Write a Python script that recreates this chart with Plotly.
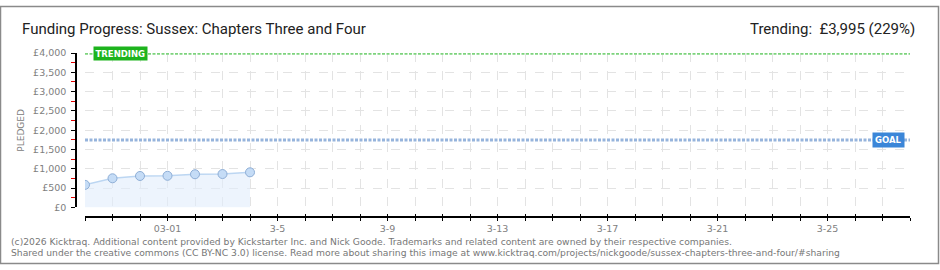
import plotly.graph_objects as go

# ---- data ----
dates = ["2026-02-26", "2026-02-27", "2026-02-28", "2026-03-01", "2026-03-02", "2026-03-03", "2026-03-04"]
pledged = [585, 755, 815, 820, 860, 865, 910]
goal = 1745
trending = 3995
x_start, x_end = "2026-02-26", "2026-03-28"

y_tick_vals = [0, 500, 1000, 1500, 2000, 2500, 3000, 3500, 4000]
y_tick_text = ["£0", "£500", "£1,000", "£1,500", "£2,000", "£2,500", "£3,000", "£3,500", "£4,000"]

all_days = ["2026-02-26", "2026-02-27", "2026-02-28"] + ["2026-03-%02d" % d for d in range(1, 29)]
label_map = {"2026-03-01": "03-01", "2026-03-05": "3-5", "2026-03-09": "3-9", "2026-03-13": "3-13",
             "2026-03-17": "3-17", "2026-03-21": "3-21", "2026-03-25": "3-25"}
x_tick_text = [label_map.get(d, "") for d in all_days]

title = "Funding Progress: Sussex: Chapters Three and Four"
trend_text = "Trending:  £3,995 (229%)"
footer1 = "(c)2026 Kicktraq. Additional content provided by Kickstarter Inc. and Nick Goode. Trademarks and related content are owned by their respective companies."
footer2 = "Shared under the creative commons (CC BY-NC 3.0) license. Read more about sharing this image at www.kicktraq.com/projects/nickgoode/sussex-chapters-three-and-four/#sharing"

W, H = 940, 270
px = lambda v: v / W
py = lambda v: (H - v) / H

fig = go.Figure()

fig.add_trace(go.Scatter(
    x=dates, y=pledged, mode="lines+markers",
    line=dict(color="#bcd6f2", width=1.5),
    fill="tozeroy", fillcolor="rgba(225,237,252,0.6)",
    marker=dict(size=9, color="#c5dcf6", line=dict(color="#8eaed6", width=1)),
    hoverinfo="skip", showlegend=False))

fig.add_trace(go.Scatter(
    x=[x_start, x_end], y=[trending, trending], mode="lines",
    line=dict(color="#7dd37d", width=3, dash="3px,1.5px"),
    hoverinfo="skip", showlegend=False))

fig.add_trace(go.Scatter(
    x=[x_start, x_end], y=[goal, goal], mode="lines",
    line=dict(color="#96b4dc", width=3, dash="3px,1.5px"),
    hoverinfo="skip", showlegend=False))

# invisible trace for the overlay axis (crossing ticks)
fig.add_trace(go.Scatter(x=[x_start, x_end], y=[0, 0], xaxis="x2", mode="lines",
                         line=dict(width=0), hoverinfo="skip", showlegend=False))

tick_font = dict(family="DejaVu Sans", size=9.5, color="#808080")

fig.update_layout(
    width=W, height=H,
    margin=dict(l=0, r=0, t=0, b=0),
    paper_bgcolor="white", plot_bgcolor="white",
    xaxis=dict(
        domain=[px(85), px(910)], range=[x_start, x_end], type="date",
        anchor="free", position=py(220),
        tickvals=all_days, ticktext=x_tick_text, tickangle=0,
        ticks="outside", ticklen=3, tickcolor="black", tickwidth=1,
        showline=True, linecolor="black", linewidth=1.5,
        showgrid=True, gridcolor="#e3e3e3", griddash="dash", gridwidth=1,
        tickfont=tick_font, zeroline=False),
    xaxis2=dict(
        domain=[px(85), px(910)], range=[x_start, x_end], type="date",
        overlaying="x", anchor="free", position=py(220),
        tickvals=all_days, ticktext=["" for _ in all_days],
        ticks="inside", ticklen=3, tickcolor="black", tickwidth=1,
        showline=False, showgrid=False, zeroline=False),
    yaxis=dict(
        domain=[py(210), py(49)], range=[0, 4000],
        anchor="free", position=px(76),
        tickvals=y_tick_vals, ticktext=y_tick_text,
        ticks="outside", ticklen=4, tickcolor="black", tickwidth=1,
        minor=dict(dtick=250, ticks="outside", ticklen=4, tickcolor="#e00000", tickwidth=1, showgrid=False),
        showline=True, linecolor="black", linewidth=1.5,
        showgrid=True, gridcolor="#e3e3e3", griddash="dash", gridwidth=1,
        tickfont=tick_font, zeroline=False, ticklabelstandoff=3),
    font=dict(family="DejaVu Sans"),
)

fig.add_annotation(x=px(20), y=py(24), xref="paper", yref="paper", xanchor="left", yanchor="middle",
                   text=title, showarrow=False, font=dict(family="Roboto", size=15, color="#222"))
fig.add_annotation(x=px(917), y=py(24), xref="paper", yref="paper", xanchor="right", yanchor="middle",
                   text=trend_text, showarrow=False, font=dict(family="Roboto", size=15, color="#222"))
fig.add_annotation(x=px(21), y=py(130), xref="paper", yref="paper", xanchor="center", yanchor="middle",
                   text="PLEDGED", textangle=-90, showarrow=False,
                   font=dict(family="DejaVu Sans", size=9, color="#808080"))
fig.add_annotation(x=px(93), y=trending, xref="paper", yref="y", xanchor="left", yanchor="middle",
                   text="<b>TRENDING</b>", showarrow=False, bgcolor="#1db31d", borderpad=1.5,
                   font=dict(family="DejaVu Sans", size=8.5, color="white"))
fig.add_annotation(x=px(905), y=goal, xref="paper", yref="y", xanchor="right", yanchor="middle",
                   text="<b>GOAL</b>", showarrow=False, bgcolor="#3b86d8", borderpad=2,
                   font=dict(family="DejaVu Sans", size=8.5, color="white"))
fig.add_annotation(x=px(9), y=py(245), xref="paper", yref="paper", xanchor="left", yanchor="middle",
                   text=footer1, showarrow=False, font=dict(family="DejaVu Sans", size=9.2, color="#777"))
fig.add_annotation(x=px(9), y=py(257), xref="paper", yref="paper", xanchor="left", yanchor="middle",
                   text=footer2, showarrow=False, font=dict(family="DejaVu Sans", size=9.2, color="#777"))

fig.add_shape(type="rect", xref="paper", yref="paper", x0=px(0.5), x1=px(938.5), y0=py(0.5), y1=py(268.5),
              line=dict(color="#8a8a8a", width=1.5), fillcolor="rgba(0,0,0,0)", layer="above")

fig.write_html("out.html")
